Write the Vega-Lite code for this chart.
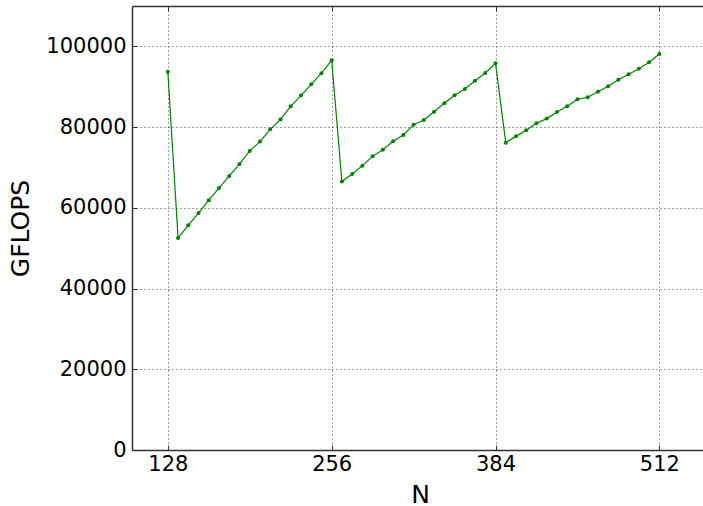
{
  "$schema": "https://vega.github.io/schema/vega-lite/v6.json",
  "width": 576,
  "height": 444,
  "autosize": {"type": "none"},
  "padding": {"left": 132, "top": 6, "right": 0, "bottom": 56},
  "background": "white",
  "config": {
    "font": "DejaVu Sans",
    "view": {"stroke": null},
    "axis": {
      "domain": true,
      "domainColor": "#333333",
      "domainWidth": 1.5,
      "grid": true,
      "gridColor": "#000000",
      "gridOpacity": 0.75,
      "gridDash": [1, 3],
      "gridWidth": 1,
      "tickColor": "#333333",
      "tickSize": -5,
      "labelFont": "DejaVu Sans",
      "labelFontSize": 21,
      "labelColor": "#000000",
      "titleFont": "DejaVu Sans",
      "titleFontSize": 25,
      "titleFontWeight": "normal",
      "titleColor": "#000000"
    }
  },
  "data": {
    "values": [
      {"N": 128, "GFLOPS": 93700},
      {"N": 136, "GFLOPS": 52500},
      {"N": 144, "GFLOPS": 55700},
      {"N": 152, "GFLOPS": 58700},
      {"N": 160, "GFLOPS": 61900},
      {"N": 168, "GFLOPS": 64900},
      {"N": 176, "GFLOPS": 67900},
      {"N": 184, "GFLOPS": 70850},
      {"N": 192, "GFLOPS": 74100},
      {"N": 200, "GFLOPS": 76400},
      {"N": 208, "GFLOPS": 79450},
      {"N": 216, "GFLOPS": 81900},
      {"N": 224, "GFLOPS": 85150},
      {"N": 232, "GFLOPS": 87800},
      {"N": 240, "GFLOPS": 90600},
      {"N": 248, "GFLOPS": 93350},
      {"N": 256, "GFLOPS": 96550},
      {"N": 264, "GFLOPS": 66500},
      {"N": 272, "GFLOPS": 68400},
      {"N": 280, "GFLOPS": 70450},
      {"N": 288, "GFLOPS": 72750},
      {"N": 296, "GFLOPS": 74400},
      {"N": 304, "GFLOPS": 76500},
      {"N": 312, "GFLOPS": 78050},
      {"N": 320, "GFLOPS": 80600},
      {"N": 328, "GFLOPS": 81750},
      {"N": 336, "GFLOPS": 83800},
      {"N": 344, "GFLOPS": 85900},
      {"N": 352, "GFLOPS": 87900},
      {"N": 360, "GFLOPS": 89450},
      {"N": 368, "GFLOPS": 91500},
      {"N": 376, "GFLOPS": 93400},
      {"N": 384, "GFLOPS": 95800},
      {"N": 392, "GFLOPS": 76150},
      {"N": 400, "GFLOPS": 77700},
      {"N": 408, "GFLOPS": 79200},
      {"N": 416, "GFLOPS": 80950},
      {"N": 424, "GFLOPS": 82100},
      {"N": 432, "GFLOPS": 83750},
      {"N": 440, "GFLOPS": 85150},
      {"N": 448, "GFLOPS": 86900},
      {"N": 456, "GFLOPS": 87400},
      {"N": 464, "GFLOPS": 88750},
      {"N": 472, "GFLOPS": 90100},
      {"N": 480, "GFLOPS": 91750},
      {"N": 488, "GFLOPS": 93100},
      {"N": 496, "GFLOPS": 94450},
      {"N": 504, "GFLOPS": 96050},
      {"N": 512, "GFLOPS": 98100}
    ]
  },
  "encoding": {
    "y": {
      "field": "GFLOPS",
      "type": "quantitative",
      "scale": {"domain": [0, 110000], "nice": false},
      "axis": {"values": [0, 20000, 40000, 60000, 80000, 100000], "format": "d", "title": "GFLOPS", "labelPadding": 11, "titlePadding": 12}
    }
  },
  "layer": [
    {
      "mark": {"type": "line", "color": "#008000", "strokeWidth": 1.2},
      "encoding": {
        "x": {
          "field": "N",
          "type": "quantitative",
          "scale": {"domain": [100, 550], "nice": false, "zero": false},
          "axis": {"values": [128, 256, 384, 512], "title": "N", "labelPadding": 8, "titlePadding": 8}
        }
      }
    },
    {
      "mark": {"type": "circle", "color": "#008000", "size": 16, "opacity": 1},
      "encoding": {
        "x": {
          "field": "N",
          "type": "quantitative",
          "scale": {"domain": [100, 550], "nice": false, "zero": false},
          "axis": {"orient": "top", "values": [128, 256, 384, 512], "labels": false, "grid": false, "title": null}
        }
      }
    }
  ],
  "resolve": {"axis": {"x": "independent"}}
}
